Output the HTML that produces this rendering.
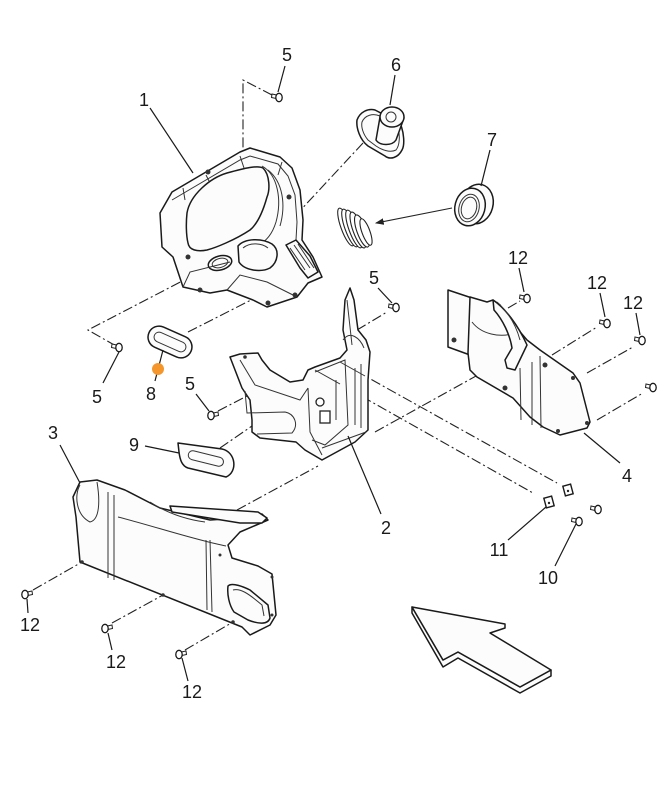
<!DOCTYPE html>
<html><head><meta charset="utf-8"><style>
html,body{margin:0;padding:0;background:#fff;}
svg{display:block;}
text{font-family:"Liberation Sans",sans-serif;font-size:18px;fill:#1a1a1a;text-anchor:middle;}
.p{fill:#fcfcfc;stroke:#1a1a1a;stroke-width:1.5;stroke-linejoin:round;}
.l{fill:none;stroke:#333;stroke-width:1;}
.d{fill:none;stroke:#222;stroke-width:1.1;stroke-dasharray:10 3 2 3;}
.ld{fill:none;stroke:#1a1a1a;stroke-width:1.2;}
</style></head><body>
<svg width="666" height="800" viewBox="0 0 666 800" xmlns="http://www.w3.org/2000/svg">
<defs>
<g id="scr"><path d="M-1,-1.5 L6,-3 L6.5,0.5 L-0.5,2 Z" fill="#fff" stroke="#222" stroke-width="1"/><ellipse cx="-1" cy="0.5" rx="3.2" ry="4.2" fill="#fff" stroke="#1a1a1a" stroke-width="1.3"/></g>
<marker id="ah" markerWidth="8" markerHeight="6" refX="7" refY="3" orient="auto"><path d="M0,0 L8,3 L0,6 Z" fill="#222"/></marker>
</defs>

<!-- dashed construction lines -->
<polyline class="d" points="272,95 243,80 243,192"/>
<line class="d" x1="210" y1="174" x2="243" y2="193"/>
<line class="d" x1="363" y1="143" x2="257" y2="257"/>
<polyline class="d" points="116,346 88,330 215,264"/>
<line class="d" x1="188" y1="332" x2="255" y2="298"/>
<line class="d" x1="218" y1="411" x2="247" y2="396"/>
<line class="d" x1="220" y1="448" x2="252" y2="426"/>
<line class="d" x1="237" y1="510" x2="318" y2="466"/>
<line class="d" x1="375" y1="432" x2="523" y2="350"/>
<line class="d" x1="340" y1="362" x2="557" y2="483"/>
<line class="d" x1="315" y1="370" x2="533" y2="493"/>
<line class="d" x1="508" y1="308" x2="520" y2="301"/>
<line class="d" x1="552" y1="355" x2="597" y2="327"/>
<line class="d" x1="587" y1="373" x2="633" y2="347"/>
<line class="d" x1="597" y1="420" x2="643" y2="393"/>
<line class="d" x1="33" y1="590" x2="82" y2="562"/>
<line class="d" x1="112" y1="623" x2="163" y2="595"/>
<line class="d" x1="185" y1="650" x2="233" y2="622"/>
<line class="d" x1="357" y1="330" x2="387" y2="312"/>

<!-- PART 1 -->
<path class="p" d="M172,192 L240,152 L250,148 L280,157 L292,168 L300,190 L303,220 L302,240 L313,257 L322,277 L308,283 L297,297 L267,307 L253,300 L227,290 L210,293 L183,287 L173,257 L162,247 L160,213 Z"/>
<path class="l" d="M172,200 L240,160 L250,156 L278,164 L288,176 L295,195 L297,222 L296,240"/>
<path class="l" d="M183,188 L185,200 M206,175 L212,187 M240,156 L244,168 M282,162 L278,175"/>
<path class="p" d="M187,213 C190,195 210,178 227,173 C245,168 258,165 263,168 C270,175 270,190 267,197 C262,215 256,225 250,230 C235,240 215,248 207,250 C197,252 189,250 188,243 C186,235 186,222 187,213 Z"/>
<path class="l" d="M262,166 C278,175 282,200 276,222 C272,235 265,242 258,245"/>
<path class="l" d="M268,170 C283,182 286,205 280,226"/>
<ellipse class="p" cx="220" cy="263" rx="12" ry="7" transform="rotate(-15 220 263)"/>
<ellipse class="l" cx="220" cy="263" rx="8" ry="4.5" transform="rotate(-15 220 263)"/>
<path class="p" d="M238,246 C245,238 262,238 272,244 C280,250 278,262 270,268 C260,273 244,270 239,262 Z"/>
<path class="l" d="M243,248 C250,242 262,243 268,248"/>
<path class="p" d="M286,245 L296,240 L310,256 L318,272 L308,278 L300,268 Z"/>
<path class="l" d="M290,248 L305,270 M294,245 L310,268 M298,244 L314,268"/>
<path class="l" d="M183,287 L190,272 L230,262 M227,290 L240,275 L267,282 L297,297"/>
<circle cx="208" cy="172" r="2.5" fill="#333"/><circle cx="289" cy="197" r="2.5" fill="#333"/><circle cx="200" cy="290" r="2.5" fill="#333"/><circle cx="268" cy="303" r="2.5" fill="#333"/><circle cx="295" cy="295" r="2.5" fill="#333"/><circle cx="188" cy="257" r="2.5" fill="#333"/>

<!-- PART 6 -->
<path class="p" d="M357,120 C360,112 368,108 375,110 L400,123 C404,132 405,145 402,150 C398,158 390,160 385,156 L368,146 C360,140 356,128 357,120 Z"/>
<path class="l" d="M362,122 C365,115 373,113 380,116 L398,127 C400,135 400,145 396,150 C390,153 382,150 376,146 L368,140 C363,134 361,127 362,122 Z"/>
<path class="p" d="M380,117 L376,140 C380,146 392,146 396,140 L404,118 Z"/>
<ellipse class="p" cx="392" cy="117" rx="12" ry="10"/>
<ellipse class="l" cx="391" cy="117" rx="5" ry="5"/>

<!-- PART 7 ring & bellows -->
<ellipse class="p" cx="477" cy="204" rx="16" ry="20" transform="rotate(15 477 204)"/>
<ellipse class="p" cx="470" cy="207" rx="15" ry="19" transform="rotate(15 470 207)"/>
<ellipse class="l" cx="469" cy="208" rx="10" ry="14" transform="rotate(15 469 208)"/>
<ellipse class="l" cx="469" cy="208" rx="7.5" ry="11" transform="rotate(15 469 208)"/>
<line x1="452" y1="208" x2="376" y2="223" stroke="#222" stroke-width="1.1" marker-end="url(#ah)"/>
<g fill="#fff" stroke="#222" stroke-width="1.1">
<ellipse cx="346" cy="227" rx="5" ry="20" transform="rotate(-20 346 227)"/>
<ellipse cx="350" cy="228" rx="5" ry="20" transform="rotate(-20 350 228)"/>
<ellipse cx="354" cy="229" rx="5" ry="20" transform="rotate(-20 354 229)"/>
<ellipse cx="358" cy="230" rx="5" ry="19" transform="rotate(-20 358 230)"/>
<ellipse cx="362" cy="231" rx="5" ry="17" transform="rotate(-20 362 231)"/>
<ellipse cx="366" cy="232" rx="4" ry="14" transform="rotate(-20 366 232)"/>
</g>

<!-- PART 8 grommet -->
<g transform="rotate(24 170 342)">
<rect x="147" y="331" width="46" height="22" rx="11" class="p" stroke-width="2.2"/>
<rect x="153" y="337" width="34" height="10" rx="5" class="l"/>
</g>

<!-- PART 2 -->
<path class="p" d="M230,357 L240,354 L258,353 L262,360 L270,370 L290,382 L303,380 L308,370 L315,367 L340,358 L347,350 L343,330 L345,300 L350,288 L354,300 L358,330 L366,340 L370,352 L368,380 L368,430 L355,442 L322,460 L305,450 L296,442 L260,438 L252,432 L252,420 L250,400 L242,388 Z"/>
<path class="l" d="M245,391 L247,413 L285,412 C295,414 299,425 292,433 L257,434"/>
<path class="l" d="M240,360 L255,385 L300,400 L308,388 M308,388 L310,432 L322,455"/>
<path class="l" d="M315,372 L345,360 L348,425 L325,445 L312,440"/>
<path class="l" d="M322,448 L366,432 M355,368 L355,425 M361,364 L361,428 M336,380 L336,420"/>
<path class="l" d="M347,300 L352,345 M343,340 C350,330 360,338 364,348"/>
<circle cx="320" cy="402" r="4" fill="#fff" stroke="#222" stroke-width="1.3"/>
<rect x="320" y="411" width="10" height="12" fill="#fff" stroke="#222" stroke-width="1.3"/>
<path class="l" d="M340,362 L365,376 M315,370 L340,384"/>
<circle cx="245" cy="357" r="1.8" fill="#333"/>

<!-- PART 9 -->
<path class="p" d="M178,443 L222,449 C236,452 238,472 226,477 L188,468 C182,466 180,460 179,452 Z" stroke-width="2.2"/>
<rect x="188" y="454" width="36" height="9" rx="4.5" class="l" transform="rotate(14 206 458)"/>

<!-- PART 3 -->
<path class="p" d="M73,497 L80,482 L97,480 L125,490 L160,508 L210,520 L240,518 L262,514 L268,520 L240,532 L228,545 L232,558 L258,566 L272,574 L276,615 L270,625 L250,635 L242,627 L80,562 L76,517 Z"/>
<path class="l" d="M80,485 C74,495 76,515 90,522 C100,520 100,500 97,482"/>
<path class="l" d="M108,492 L108,578 M114,495 L114,580 M206,540 L207,610 M210,540 L212,612"/>
<path class="l" d="M118,517 C150,525 195,540 226,546"/>
<path class="p" d="M170,506 L258,512 L267,518 L262,523 L240,523 L172,512 Z"/>
<path class="l" d="M150,502 C170,515 190,520 205,522"/>
<path class="p" d="M228,586 C232,582 244,587 250,590 L268,605 L270,618 C268,625 258,624 248,620 L234,612 C229,605 227,594 228,586 Z"/>
<path class="l" d="M233,590 C240,588 248,593 262,605 L264,616"/>
<circle cx="82" cy="562" r="1.8" fill="#333"/><circle cx="163" cy="595" r="1.8" fill="#333"/><circle cx="233" cy="622" r="1.8" fill="#333"/><circle cx="220" cy="555" r="1.5" fill="#333"/><circle cx="272" cy="577" r="1.5" fill="#333"/><circle cx="272" cy="615" r="1.5" fill="#333"/>

<!-- PART 4 -->
<path class="p" d="M448,290 L472,298 L470,355 L448,347 Z"/>
<circle cx="454" cy="340" r="2.5" fill="#333"/>
<path class="p" d="M470,297 L487,302 L493,300 L500,305 L510,320 L527,340 L540,350 L573,373 L580,383 L590,422 L587,428 L560,435 L543,427 L530,417 L513,398 L477,377 L470,370 L468,353 Z"/>
<path class="l" d="M472,322 C482,335 500,337 512,334"/>
<path class="p" d="M493,300 C505,308 518,325 527,345 L515,370 L507,368 L505,360 L512,348 C510,335 503,320 494,310 Z"/>
<path class="l" d="M497,302 C508,312 516,325 520,340"/>
<path class="l" d="M520,368 L521,420 M532,362 L532,425 M540,356 L541,428"/>
<circle cx="545" cy="365" r="2.5" fill="#333"/><circle cx="573" cy="378" r="2" fill="#333"/><circle cx="587" cy="423" r="2" fill="#333"/><circle cx="558" cy="431" r="2" fill="#333"/><circle cx="505" cy="388" r="2.5" fill="#333"/>

<!-- nuts 11 -->
<g fill="#fff" stroke="#1a1a1a" stroke-width="1.4">
<rect x="545" y="497" width="8" height="10" transform="rotate(-15 549 502)"/>
<rect x="564" y="485" width="8" height="10" transform="rotate(-15 568 490)"/>
</g>
<circle cx="549" cy="503" r="1.2" fill="#222"/><circle cx="568" cy="491" r="1.2" fill="#222"/>

<!-- screws -->
<use href="#scr" transform="translate(278,97) scale(-1,1)"/>
<use href="#scr" transform="translate(395,307) scale(-1,1)"/>
<use href="#scr" transform="translate(118,347) scale(-1,1)"/>
<use href="#scr" transform="translate(212,415)"/>
<use href="#scr" transform="translate(526,298) scale(-1,1)"/>
<use href="#scr" transform="translate(606,323) scale(-1,1)"/>
<use href="#scr" transform="translate(641,340) scale(-1,1)"/>
<use href="#scr" transform="translate(652,387) scale(-1,1)"/>
<use href="#scr" transform="translate(26,594)"/>
<use href="#scr" transform="translate(106,628)"/>
<use href="#scr" transform="translate(180,654)"/>
<use href="#scr" transform="translate(578,521) scale(-1,1)"/>
<use href="#scr" transform="translate(597,509) scale(-1,1)"/>

<!-- leader lines -->
<g class="ld">
<line x1="150" y1="108" x2="193" y2="173"/>
<line x1="285" y1="66" x2="278" y2="92"/>
<line x1="395" y1="75" x2="390" y2="105"/>
<line x1="490" y1="150" x2="481" y2="186"/>
<line x1="519" y1="268" x2="524" y2="292"/>
<line x1="378" y1="288" x2="392" y2="303"/>
<line x1="600" y1="293" x2="605" y2="317"/>
<line x1="636" y1="313" x2="640" y2="335"/>
<line x1="103" y1="383" x2="119" y2="352"/>
<line x1="155" y1="381" x2="163" y2="350"/>
<line x1="196" y1="394" x2="209" y2="411"/>
<line x1="145" y1="446" x2="179" y2="453"/>
<line x1="60" y1="445" x2="80" y2="483"/>
<line x1="584" y1="433" x2="620" y2="463"/>
<line x1="348" y1="436" x2="381" y2="514"/>
<line x1="508" y1="540" x2="546" y2="507"/>
<line x1="555" y1="566" x2="576" y2="524"/>
<line x1="27" y1="599" x2="28" y2="613"/>
<line x1="108" y1="633" x2="112" y2="650"/>
<line x1="182" y1="658" x2="188" y2="681"/>
</g>
<circle cx="158" cy="369" r="6" fill="#F5962B"/>

<!-- big arrow -->
<path class="p" d="M412,607 L412,613 L443,667 L458,658 L520,693 L551,676 L551,670 L520,687 L458,652 L443,660 Z"/>
<path class="p" d="M412,607 L505,624 L505,628 L490,633 L551,670 L520,687 L458,652 L443,660 Z"/>

<!-- labels -->
<text x="144" y="106">1</text>
<text x="287" y="61">5</text>
<text x="396" y="71">6</text>
<text x="492" y="146">7</text>
<text x="518" y="264">12</text>
<text x="374" y="284">5</text>
<text x="597" y="289">12</text>
<text x="633" y="309">12</text>
<text x="97" y="403">5</text>
<text x="151" y="400">8</text>
<text x="190" y="390">5</text>
<text x="134" y="451">9</text>
<text x="53" y="439">3</text>
<text x="627" y="482">4</text>
<text x="386" y="534">2</text>
<text x="499" y="556">11</text>
<text x="548" y="584">10</text>
<text x="30" y="631">12</text>
<text x="116" y="668">12</text>
<text x="192" y="698">12</text>
</svg>
</body></html>
